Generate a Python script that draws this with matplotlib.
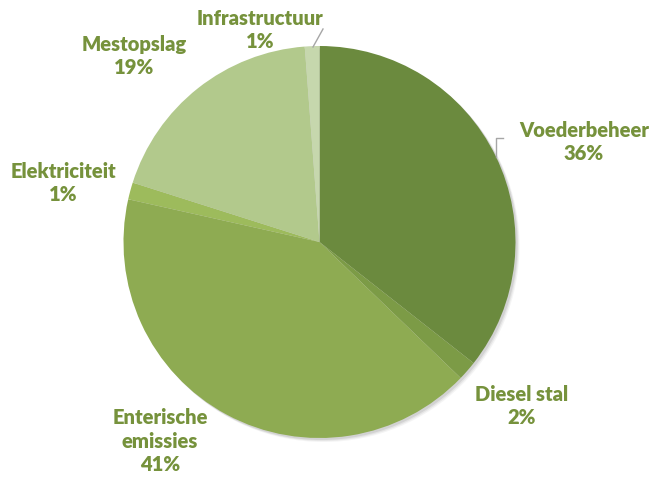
import matplotlib.pyplot as plt
from matplotlib.patches import Circle

plt.rcParams['font.family'] = ['Lato', 'DejaVu Sans']

labels = ["Voederbeheer", "Diesel stal", "Enterische\nemissies", "Elektriciteit", "Mestopslag", "Infrastructuur"]
values = [35.6, 1.6, 41.3, 1.4, 18.9, 1.2]
colors = ["#6b8a3e", "#7c9b46", "#8eab52", "#9dbb5c", "#b2c98c", "#c6d7ad"]

# label centres in pixel coords (y down)
label_pos = [(584, 142), (522, 406), (160, 441), (63, 183), (134, 56), (260, 30)]

TEXT_COLOR = "#76923c"
LINE_COLOR = "#a6a6a6"
CENTER = (319.5, 242)
RADIUS = 196

fig = plt.figure(figsize=(6.52, 4.79), dpi=100)
ax = fig.add_axes([0, 0, 1, 1])

# soft shadow
for off, a in [(4, 0.08), (3, 0.12), (2, 0.18)]:
    ax.add_patch(Circle((CENTER[0] + off, CENTER[1] + off), RADIUS, color="#7f7f7f", alpha=a, lw=0, zorder=0))

ax.pie(values, colors=colors, startangle=-90, counterclock=True,
       center=CENTER, radius=RADIUS, frame=True,
       wedgeprops=dict(linewidth=0))
ax.set_xlim(0, 652)
ax.set_ylim(479, 0)
ax.set_aspect('equal')
ax.axis('off')

for lab, v, (x, y) in zip(labels, values, label_pos):
    ax.text(x, y, f"{lab}\n{v:.0f}%", ha='center', va='center', color=TEXT_COLOR,
            fontsize=14.5, fontweight='heavy', linespacing=1.3, zorder=5)

# leader lines
ax.plot([313, 323], [47, 29], color=LINE_COLOR, lw=1, zorder=4)
ax.plot([496, 496, 503], [157, 138, 138], color=LINE_COLOR, lw=1, zorder=4)

fig.savefig("out.png", dpi=100)
